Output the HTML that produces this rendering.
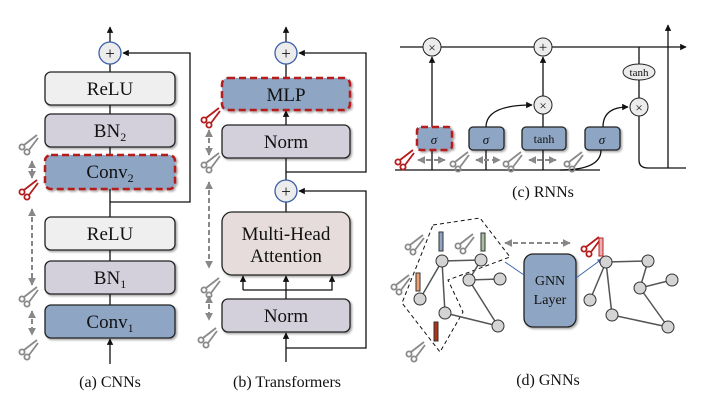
<!DOCTYPE html>
<html><head><meta charset="utf-8"><style>
body{margin:0;background:#fff}
svg{display:block;font-family:"Liberation Serif",serif}
</style></head><body>
<svg width="703" height="404" viewBox="0 0 703 404" xmlns="http://www.w3.org/2000/svg">
<defs>
<marker id="ah" viewBox="0 0 10 10" refX="9" refY="5" markerWidth="5" markerHeight="5" orient="auto"><path d="M0,0L10,5L0,10z" fill="#111"/></marker>
<marker id="ag" viewBox="0 0 10 10" refX="9" refY="5" markerWidth="4" markerHeight="4" orient="auto-start-reverse"><path d="M0,0L10,5L0,10z" fill="#888"/></marker>
<marker id="ab" viewBox="0 0 10 10" refX="9" refY="5" markerWidth="5" markerHeight="5" orient="auto"><path d="M0,0L10,5L0,10z" fill="#3a66b0"/></marker>
<g id="sg" fill="none" stroke="#8a8a8a" stroke-width="1.8"><circle cx="-6" cy="2" r="2.6"/><circle cx="-1" cy="7" r="2.6"/><path d="M-4,0L9,-10M1,5L10,-7"/></g>
<g id="sr" fill="none" stroke="#b51c1c" stroke-width="1.8"><circle cx="-6" cy="2" r="2.6"/><circle cx="-1" cy="7" r="2.6"/><path d="M-4,0L9,-10M1,5L10,-7"/></g>
<filter id="sh"><feDropShadow dx="1.5" dy="1.5" stdDeviation="1" flood-opacity="0.35"/></filter>
</defs>
<g stroke="#111" stroke-width="1.3" fill="none">
<line x1="110" y1="364" x2="110" y2="339" marker-end="url(#ah)"/>
<line x1="110" y1="338" x2="110" y2="64"/>
<line x1="110" y1="42" x2="110" y2="27" marker-end="url(#ah)"/>
<polyline points="110,202 190,202 190,53 123,53" marker-end="url(#ah)"/>
<line x1="286" y1="362" x2="286" y2="333" marker-end="url(#ah)"/>
<line x1="286" y1="332" x2="286" y2="276" marker-end="url(#ah)"/>
<polyline points="243,290 243,276" marker-end="url(#ah)"/>
<polyline points="243,290 332,290 332,276" marker-end="url(#ah)"/>
<line x1="286" y1="212" x2="286" y2="202"/>
<line x1="286" y1="180" x2="286" y2="158"/>
<line x1="286" y1="125" x2="286" y2="111" marker-end="url(#ah)"/>
<line x1="286" y1="78" x2="286" y2="64"/>
<line x1="286" y1="42" x2="286" y2="27" marker-end="url(#ah)"/>
<polyline points="286,348 366,348 366,191 299,191" marker-end="url(#ah)"/>
<polyline points="286,172 366,172 366,53 299,53" marker-end="url(#ah)"/>
<line x1="400" y1="47" x2="686" y2="47" marker-end="url(#ah)"/>
<line x1="395" y1="170" x2="600" y2="170"/>
<path d="M560,170 Q601,170 601,150"/>
<line x1="432" y1="170" x2="432" y2="57" marker-end="url(#ah)"/>
<line x1="486" y1="170" x2="486" y2="150"/>
<path d="M486,127 Q486,105 532,105" marker-end="url(#ah)"/>
<line x1="543" y1="170" x2="543" y2="150"/>
<line x1="543" y1="127" x2="543" y2="114"/>
<line x1="543" y1="96" x2="543" y2="57" marker-end="url(#ah)"/>
<path d="M603,127 Q603,107 628,107" marker-end="url(#ah)"/>
<path d="M639,47 L639,160 Q639,168 648,168 L686,168"/>
<line x1="668" y1="168" x2="668" y2="25" marker-end="url(#ah)"/>
</g>
<g stroke="#222" stroke-width="1.3" filter="url(#sh)">
<rect x="45" y="72" width="130" height="33" rx="6" fill="#efefef"/>
<rect x="45" y="114" width="130" height="33" rx="6" fill="#d3d0dc"/>
<rect x="45" y="217" width="130" height="33" rx="6" fill="#efefef"/>
<rect x="45" y="261" width="130" height="33" rx="6" fill="#d3d0dc"/>
<rect x="45" y="305" width="130" height="33" rx="6" fill="#8ea6c4"/>
<rect x="222" y="125" width="128" height="33" rx="6" fill="#d3d0dc"/>
<rect x="222" y="212" width="128" height="63" rx="10" fill="#e6dcdc"/>
<rect x="222" y="299" width="128" height="33" rx="6" fill="#d3d0dc"/>
<rect x="469" y="127" width="35" height="23" rx="4" fill="#8ea6c4"/>
<rect x="522" y="127" width="44" height="23" rx="4" fill="#8ea6c4"/>
<rect x="585" y="127" width="35" height="23" rx="4" fill="#8ea6c4"/>
<rect x="524" y="254" width="52" height="73" rx="9" fill="#8ea6c4"/>
</g>
<g stroke="#b51c1c" stroke-width="2.5" stroke-dasharray="7,4" filter="url(#sh)">
<rect x="45" y="155" width="130" height="34" rx="6" fill="#8ea6c4"/>
<rect x="222" y="78" width="128" height="32" rx="6" fill="#8ea6c4"/>
<rect x="417" y="127" width="35" height="23" rx="4" fill="#8ea6c4"/>
</g>
<g stroke="#3a5fa8" stroke-width="1.3" fill="#ececec">
<circle cx="110" cy="53" r="11"/><circle cx="286" cy="53" r="11"/><circle cx="286" cy="191" r="11"/>
</g>
<g stroke="#222" stroke-width="1" fill="#ececec">
<circle cx="432" cy="47" r="9"/><circle cx="543" cy="47" r="9"/><circle cx="543" cy="105" r="9"/><circle cx="639" cy="107" r="9"/>
<ellipse cx="639" cy="72" rx="16" ry="8"/>
</g>
<g font-size="19" text-anchor="middle" fill="#111">
<text x="110" y="95">ReLU</text>
<text x="110" y="137">BN<tspan font-size="12" dy="4">2</tspan></text>
<text x="110" y="178">Conv<tspan font-size="12" dy="4">2</tspan></text>
<text x="110" y="240">ReLU</text>
<text x="110" y="284">BN<tspan font-size="12" dy="4">1</tspan></text>
<text x="110" y="328">Conv<tspan font-size="12" dy="4">1</tspan></text>
<text x="286" y="101">MLP</text>
<text x="286" y="148">Norm</text>
<text x="286" y="240">Multi-Head</text>
<text x="286" y="262">Attention</text>
<text x="286" y="322">Norm</text>
<text x="110" y="387" font-size="16">(a) CNNs</text>
<text x="287" y="387" font-size="16">(b) Transformers</text>
<text x="543" y="197" font-size="16">(c) RNNs</text>
<text x="548" y="385" font-size="16">(d) GNNs</text>
<text x="550" y="285" font-size="14">GNN</text>
<text x="550" y="304" font-size="14">Layer</text>
<text x="434" y="144" font-size="13" font-style="italic">σ</text>
<text x="486" y="144" font-size="13" font-style="italic">σ</text>
<text x="602" y="144" font-size="13" font-style="italic">σ</text>
<text x="544" y="143" font-size="12">tanh</text>
<text x="639" y="76" font-size="11">tanh</text>
<text x="110" y="59" font-size="17">+</text><text x="286" y="59" font-size="17">+</text><text x="286" y="197" font-size="17">+</text>
<text x="432" y="52" font-size="13">×</text><text x="543" y="52" font-size="15">+</text><text x="543" y="110" font-size="13">×</text><text x="639" y="112" font-size="13">×</text>
</g>
<g stroke="#888" stroke-width="2" stroke-dasharray="5,3" fill="none">
<line x1="32" y1="161" x2="32" y2="178" marker-start="url(#ag)" marker-end="url(#ag)"/>
<line x1="32" y1="209" x2="32" y2="285" marker-start="url(#ag)" marker-end="url(#ag)"/>
<line x1="32" y1="311" x2="32" y2="335" marker-start="url(#ag)" marker-end="url(#ag)"/>
<line x1="209" y1="130" x2="209" y2="155" marker-start="url(#ag)" marker-end="url(#ag)"/>
<line x1="209" y1="182" x2="209" y2="268" marker-start="url(#ag)" marker-end="url(#ag)"/>
<line x1="209" y1="296" x2="209" y2="320" marker-start="url(#ag)" marker-end="url(#ag)"/>
<line x1="418" y1="160" x2="445" y2="160" marker-start="url(#ag)" marker-end="url(#ag)"/>
<line x1="476" y1="160" x2="500" y2="160" marker-start="url(#ag)" marker-end="url(#ag)"/>
<line x1="529" y1="160" x2="556" y2="160" marker-start="url(#ag)" marker-end="url(#ag)"/>
<line x1="505" y1="243" x2="570" y2="243" marker-start="url(#ag)" marker-end="url(#ag)"/>
</g>
<use href="#sg" x="28" y="145"/><use href="#sr" x="28" y="190"/><use href="#sg" x="28" y="297"/><use href="#sg" x="28" y="350"/>
<use href="#sr" x="210" y="118"/><use href="#sg" x="210" y="163"/><use href="#sg" x="210" y="288"/><use href="#sg" x="207" y="338"/>
<use href="#sr" x="404" y="160"/><use href="#sg" x="459" y="162"/><use href="#sg" x="512" y="162"/><use href="#sg" x="573" y="162"/>
<use href="#sg" x="414" y="245"/><use href="#sg" x="464" y="244"/><use href="#sg" x="400" y="285"/><use href="#sg" x="415" y="352"/><use href="#sr" x="590" y="247"/>
<polygon points="433,225 480,218 510,257 448,280 463,312 440,352 402,303" fill="none" stroke="#111" stroke-width="1" stroke-dasharray="4,3"/>
<line x1="505" y1="262" x2="524" y2="275" stroke="#3a66b0" stroke-width="1"/>
<line x1="576" y1="278" x2="602" y2="259" stroke="#3a66b0" stroke-width="1" marker-end="url(#ab)"/>
<g stroke="#555" stroke-width="1.5" fill="none">
<path d="M442,261L481,260M442,261L420,299M442,261L445,313M481,260L469,280L500,279M469,280L498,326M445,313L498,326"/>
<path d="M606,262L648,261M606,262L590,300M606,262L612,315M648,261L640,288L672,280M640,288L668,327M612,315L668,327"/>
</g>
<g fill="#d4d4d4" stroke="#333" stroke-width="1">
<circle cx="442" cy="261" r="6"/><circle cx="481" cy="260" r="6"/><circle cx="420" cy="299" r="6"/><circle cx="445" cy="313" r="6"/><circle cx="469" cy="280" r="6"/><circle cx="500" cy="279" r="6"/><circle cx="498" cy="326" r="6"/>
<circle cx="606" cy="262" r="6"/><circle cx="648" cy="261" r="6"/><circle cx="590" cy="300" r="6"/><circle cx="612" cy="315" r="6"/><circle cx="640" cy="288" r="6"/><circle cx="672" cy="280" r="6"/><circle cx="668" cy="327" r="6"/>
</g>
<g stroke-width="1" stroke="#333">
<rect x="439" y="232" width="4" height="19" fill="#8ea6c4"/>
<rect x="481" y="233" width="4" height="18" fill="#a8c0a0"/>
<rect x="416" y="273" width="4" height="18" fill="#f0a070"/>
<rect x="434" y="322" width="4" height="19" fill="#b03018"/>
<rect x="599" y="238" width="4" height="18" fill="#e8b0b0" stroke="#c02020"/>
</g>
</svg>
</body></html>
